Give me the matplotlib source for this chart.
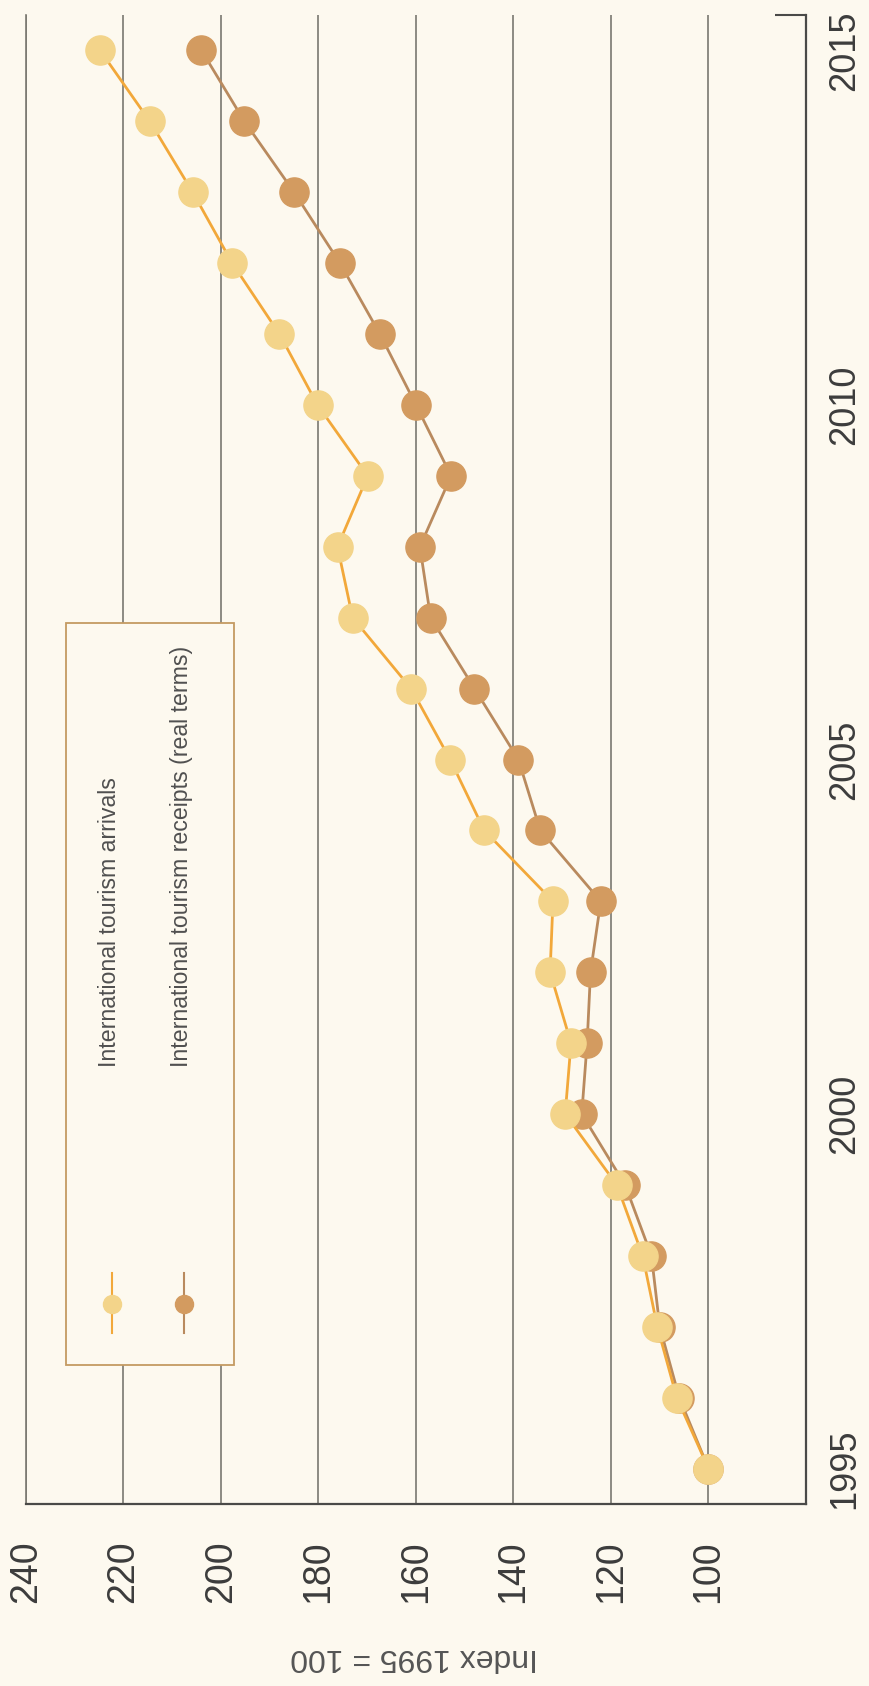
import matplotlib.pyplot as plt
from matplotlib.patches import Rectangle

# Data (index, 1995 = 100)
years = list(range(1995, 2016))
arrivals = [100, 106.5, 110.5, 113.5, 118.8, 129.4, 128.2, 132.5, 131.9, 146, 153,
            161, 173, 176.1, 169.9, 180.2, 188.0, 197.7, 205.8, 214.6, 224.8]
receipts = [100, 106, 110, 111.7, 117.1, 126.0, 124.9, 124.2, 122.1, 134.5, 139,
            148, 157, 159.2, 152.8, 160.0, 167.4, 175.6, 185.0, 195.2, 204.0]
value_ticks = [100, 120, 140, 160, 180, 200, 220, 240]
year_ticks = [1995, 2000, 2005, 2010, 2015]
series_labels = ["International tourism arrivals",
                 "International tourism receipts (real terms)"]

bg = "#FDF9EF"
grid_col = "#7A7870"
axis_col = "#4A4A48"
text_col = "#3C3C3C"
arr_face, arr_line = "#F3D48A", "#F2A83A"
rec_face, rec_line = "#D39B60", "#B98A5E"
font = ["Liberation Sans", "DejaVu Sans"]

fig = plt.figure(figsize=(8.7, 16.86), dpi=100, facecolor=bg)
ax = fig.add_axes([26 / 870, 182 / 1686, 780 / 870, 1489 / 1686])
ax.set_facecolor(bg)

# chart is drawn rotated: values run right to left, years bottom to top
ax.plot(receipts, years, color=rec_line, lw=2, marker="o", ms=21,
        mfc=rec_face, mec=rec_face, zorder=4)
ax.plot(arrivals, years, color=arr_line, lw=2, marker="o", ms=21,
        mfc=arr_face, mec=arr_face, zorder=5)

ax.set_xlim(240, 80)
ax.set_ylim(1994.5, 2015.5)

ax.set_xticks(value_ticks)
ax.set_xticklabels([str(v) for v in value_ticks], rotation=90,
                   fontsize=27, family=font, color=text_col, va="top")
ax.tick_params(axis="x", length=0, pad=26)
ax.grid(axis="x", color=grid_col, lw=1.2, zorder=1)

ax.yaxis.tick_right()
ax.set_yticks(year_ticks)
ax.set_yticklabels([str(y) for y in year_ticks], rotation=90,
                   fontsize=26, family=font, color=text_col, va="center")
ax.tick_params(axis="y", which="major", length=0, pad=15)
ax.set_yticks([2015.5], minor=True)
ax.tick_params(axis="y", which="minor", direction="in", length=22,
               width=1.5, color=axis_col, right=True, left=False)

ax.spines["top"].set_visible(False)
ax.spines["left"].set_color(grid_col)
ax.spines["left"].set_linewidth(1.2)
for side in ["bottom", "right"]:
    ax.spines[side].set_color(axis_col)
    ax.spines[side].set_linewidth(1.6)

# legend box drawn by hand so the text can be rotated
ax.add_patch(Rectangle((0.0513, 0.0934), 0.2154, 0.4983, transform=ax.transAxes,
                       facecolor=bg, edgecolor="#C49A62", lw=1.3, zorder=3))
for xf, face, line, label in [(0.1103, arr_face, arr_line, series_labels[0]),
                              (0.2026, rec_face, rec_line, series_labels[1])]:
    ax.plot([xf, xf], [0.1148, 0.1551], color=line, lw=1.5,
            transform=ax.transAxes, zorder=6)
    ax.plot([xf], [0.1343], marker="o", ms=13, mfc=face, mec=face,
            transform=ax.transAxes, zorder=7)
    ax.text(xf - 0.003, 0.2935, label, rotation=90, ha="center", va="bottom",
            fontsize=16.7, family=font, color="#505050",
            transform=ax.transAxes, zorder=7)

fig.text(414 / 870, 1 - 1657 / 1686, "Index 1995 = 100", rotation=180,
         ha="center", va="center", fontsize=23, color="#555555", family=font)

fig.savefig("out.png", dpi=100, facecolor=bg)
